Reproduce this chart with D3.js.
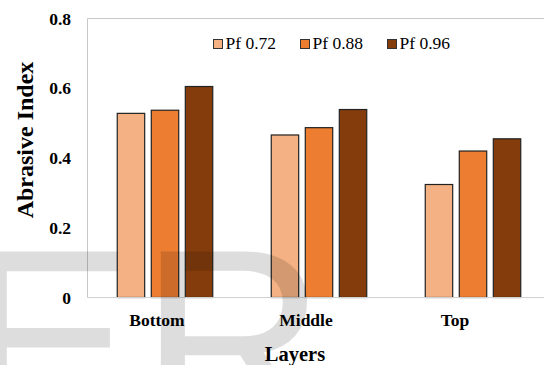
<!DOCTYPE html>
<html>
<head>
<meta charset="utf-8">
<script src="https://cdn.jsdelivr.net/npm/d3@7/dist/d3.min.js"></script>
<style>
  html, body { margin: 0; padding: 0; background: #fff; }
  svg { display: block; }
  .serif { font-family: "Liberation Serif", "Times New Roman", Times, "DejaVu Serif", serif; }
  .wm { font-family: "Liberation Sans", Arial, sans-serif; }
</style>
</head>
<body>
<svg id="chart" width="544" height="365"></svg>
<script>
// Abrasive index per layer for three packing factors
const categories = ["Bottom", "Middle", "Top"];
const seriesNames = ["Pf 0.72", "Pf 0.88", "Pf 0.96"];
const pf072 = [0.528, 0.466, 0.324];
const pf088 = [0.537, 0.487, 0.420];
const pf096 = [0.605, 0.539, 0.455];
const yTicks = [0, 0.2, 0.4, 0.6, 0.8];
const yTickLabels = ["0", "0.2", "0.4", "0.6", "0.8"];
const colors = ["#F4B183", "#ED7D31", "#843C0C"];

const seriesValues = [pf072, pf088, pf096];
const rows = categories.map((c, i) => ({
  category: c,
  values: seriesNames.map((s, j) => ({ series: s, idx: j, value: seriesValues[j][i] }))
}));

const svg = d3.select("#chart");

const plot = { left: 88, right: 550, top: 18.5, bottom: 297.5 };

const x0 = d3.scaleBand()
  .domain(categories)
  .range([plot.left, plot.right])
  .paddingInner(0.38)
  .paddingOuter(0.19);

const x1 = d3.scaleBand()
  .domain(seriesNames)
  .range([0, x0.bandwidth()])
  .paddingInner(0.194);

const y = d3.scaleLinear().domain([0, 0.8]).range([plot.bottom, plot.top]);

const color = d3.scaleOrdinal().domain(seriesNames).range(colors);

// category labels sit on a slightly tighter spacing than the bar groups
const xLabel = d3.scalePoint().domain(categories).range([157, 455]);

// plot frame
svg.append("line")
  .attr("x1", plot.left - 0.5).attr("x2", 544)
  .attr("y1", plot.top).attr("y2", plot.top)
  .attr("stroke", "#c8c8c8").attr("stroke-width", 1);
svg.append("line")
  .attr("x1", plot.left - 0.5).attr("x2", plot.left - 0.5)
  .attr("y1", plot.top).attr("y2", plot.bottom)
  .attr("stroke", "#c8c8c8").attr("stroke-width", 1);

// bars
const groups = svg.append("g").selectAll("g")
  .data(rows)
  .join("g")
  .attr("transform", d => `translate(${x0(d.category)},0)`);

groups.selectAll("rect")
  .data(d => d.values)
  .join("rect")
  .attr("x", d => x1(d.series))
  .attr("y", d => y(d.value))
  .attr("width", x1.bandwidth())
  .attr("height", d => y(0) - y(d.value))
  .attr("fill", d => color(d.series))
  .attr("stroke", "#222")
  .attr("stroke-width", 1.2);

// category axis line
svg.append("line")
  .attr("x1", plot.left - 0.5).attr("x2", 544)
  .attr("y1", plot.bottom).attr("y2", plot.bottom)
  .attr("stroke", "#d0d0d0").attr("stroke-width", 1.2);

// y tick labels
svg.append("g").selectAll("text")
  .data(yTicks)
  .join("text")
  .attr("class", "serif")
  .attr("x", 71)
  .attr("y", d => y(d))
  .attr("dy", "0.35em")
  .attr("text-anchor", "end")
  .attr("font-weight", "bold")
  .attr("font-size", 17.5)
  .attr("fill", "#000")
  .text((d, i) => yTickLabels[i]);

// x tick labels
svg.append("g").selectAll("text")
  .data(categories)
  .join("text")
  .attr("class", "serif")
  .attr("x", d => xLabel(d))
  .attr("y", 326)
  .attr("text-anchor", "middle")
  .attr("font-weight", "bold")
  .attr("font-size", 17.5)
  .attr("fill", "#000")
  .text(d => d);

// axis titles
svg.append("text")
  .attr("class", "serif")
  .attr("x", 295)
  .attr("y", 361)
  .attr("text-anchor", "middle")
  .attr("font-weight", "bold")
  .attr("font-size", 20.5)
  .attr("fill", "#000")
  .text("Layers");

svg.append("text")
  .attr("class", "serif")
  .attr("transform", "translate(33,140) rotate(-90)")
  .attr("text-anchor", "middle")
  .attr("font-weight", "bold")
  .attr("font-size", 24)
  .attr("fill", "#000")
  .text("Abrasive Index");

// legend
const legend = svg.append("g").selectAll("g")
  .data(seriesNames)
  .join("g")
  .attr("transform", (d, i) => `translate(${213.5 + i * 87},39.5)`);

legend.append("rect")
  .attr("width", 9).attr("height", 9)
  .attr("fill", d => color(d))
  .attr("stroke", "#333").attr("stroke-width", 1);

legend.append("text")
  .attr("class", "serif")
  .attr("x", 12)
  .attr("y", 9.8)
  .attr("font-size", 17.5)
  .attr("fill", "#000")
  .text(d => d);

// translucent watermark letters across the lower left
const wm = svg.append("g")
  .attr("class", "wm")
  .attr("fill", "#000")
  .attr("fill-opacity", 0.135)
  .attr("font-size", 258);
wm.append("text").attr("x", -38.4).attr("y", 429).text("E");
wm.append("text").attr("x", 139.7).attr("y", 429).text("R");
</script>
</body>
</html>
